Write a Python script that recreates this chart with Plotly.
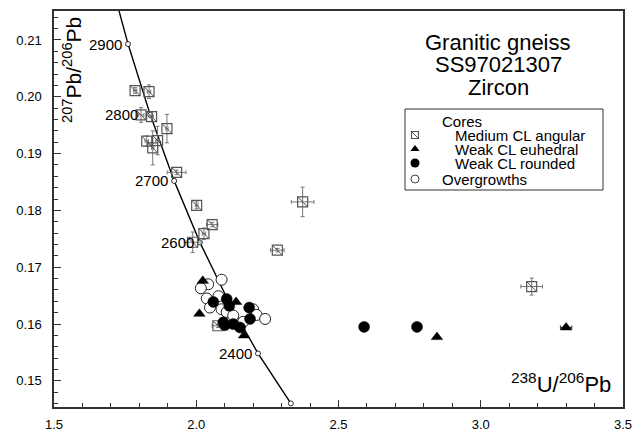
import plotly.graph_objects as go

# ---------------- data ----------------
# Concordia reference points (age in Ma, 238U/206Pb, 207Pb/206Pb)
conc_age = [3000, 2900, 2800, 2700, 2600, 2500, 2400, 2300]
conc_x = [1.6875, 1.7603, 1.8384, 1.9224, 2.0129, 2.1108, 2.2170, 2.3325]
conc_y = [0.22266, 0.20928, 0.19682, 0.18520, 0.17437, 0.16427, 0.15483, 0.14603]
conc_labels = [2900, 2800, 2700, 2600, 2400]

# Medium CL angular cores (with errors)
med_x = [1.785, 1.834, 1.806, 1.843, 1.897, 1.826, 1.864, 1.847, 1.931,
         2.0015, 2.056, 2.027, 1.9875, 2.374, 2.285, 2.076, 3.179]
med_y = [0.2011, 0.2009, 0.1968, 0.1965, 0.1944, 0.1922, 0.1923, 0.1910, 0.1867,
         0.1809, 0.1775, 0.1759, 0.1744, 0.1815, 0.1730, 0.1597, 0.1666]
med_ex = [0.006, 0.006, 0.010, 0.006, 0.004, 0.006, 0.006, 0.004, 0.033,
          0.005, 0.020, 0.006, 0.030, 0.040, 0.024, 0.020, 0.038]
med_ey = [0.0005, 0.0012, 0.0013, 0.0008, 0.0025, 0.0009, 0.0025, 0.0030, 0.0004,
          0.0006, 0.0004, 0.0010, 0.0018, 0.0026, 0.0003, 0.0003, 0.0015]

# Weak CL euhedral cores
euh_x = [2.023, 2.140, 2.011, 2.168, 2.846, 3.300]
euh_y = [0.1676, 0.1639, 0.1618, 0.1580, 0.1577, 0.1594]
euh_ex = [0.0, 0.0, 0.0, 0.0, 0.0, 0.020]

# Weak CL rounded cores
rnd_x = [2.060, 2.107, 2.116, 2.186, 2.095, 2.130, 2.189, 2.154, 2.101, 2.590, 2.776]
rnd_y = [0.1639, 0.1644, 0.1632, 0.1629, 0.1603, 0.1600, 0.1609, 0.1594, 0.1598, 0.1595, 0.1595]

# Overgrowths
ovg_x = [2.089, 2.042, 2.016, 2.037, 2.078, 2.048, 2.089, 2.200, 2.107,
         2.130, 2.212, 2.242, 2.165]
ovg_y = [0.1678, 0.1670, 0.1663, 0.1645, 0.1649, 0.1629, 0.1626, 0.1626, 0.1621,
         0.1615, 0.1616, 0.1609, 0.1604]

legend_names = ["Medium CL angular", "Weak CL euhedral", "Weak CL rounded", "Overgrowths"]

FONT = "Liberation Sans, Arial, Helvetica, sans-serif"
GRAY = "#555555"
ERR = "#777777"

fig = go.Figure()

# concordia
fig.add_trace(go.Scatter(
    x=conc_x, y=conc_y, mode="lines+markers",
    line=dict(color="black", width=1.4),
    marker=dict(symbol="circle", size=5, color="white",
                line=dict(color="black", width=0.8)),
    showlegend=False, cliponaxis=True))

# medium CL angular squares
fig.add_trace(go.Scatter(
    x=med_x, y=med_y, mode="markers",
    error_x=dict(type="data", array=med_ex, color=ERR, thickness=1, width=2),
    error_y=dict(type="data", array=med_ey, color=ERR, thickness=1, width=2),
    marker=dict(symbol="square-open", size=10, color=GRAY, line=dict(color=GRAY, width=1.2)),
    showlegend=False))
fig.add_trace(go.Scatter(
    x=med_x, y=med_y, mode="markers",
    marker=dict(symbol="line-nw", size=10, color=GRAY, line=dict(color=GRAY, width=1)),
    showlegend=False))

# overgrowths
fig.add_trace(go.Scatter(
    x=ovg_x, y=ovg_y, mode="markers",
    marker=dict(symbol="circle", size=11, color="white", line=dict(color="#222222", width=1)),
    showlegend=False))

# weak CL rounded
fig.add_trace(go.Scatter(
    x=rnd_x, y=rnd_y, mode="markers",
    marker=dict(symbol="circle", size=11, color="black", line=dict(color="black", width=0.5)),
    showlegend=False))

# weak CL euhedral
fig.add_trace(go.Scatter(
    x=euh_x, y=euh_y, mode="markers",
    error_x=dict(type="data", array=euh_ex, color="#333333", thickness=1, width=2),
    marker=dict(symbol="triangle-up", size=10, color="black", line=dict(color="black", width=0.5)),
    showlegend=False))

# concordia age labels
for age, cx, cy in zip(conc_age, conc_x, conc_y):
    if age in conc_labels:
        fig.add_annotation(x=cx, y=cy, text=str(age), showarrow=False,
                           xanchor="right", yanchor="middle", xshift=-4 if age != 2800 else -10,
                           font=dict(family=FONT, size=15, color="black"))

# ----- manual legend (paper coords via overlay axes) -----
W, H, L, T = 569.0, 396.0, 54.0, 11.0
def px(xp):
    return (xp - L) / W
def py(yp):
    return 1 - (yp - T) / H

fig.add_shape(type="rect", xref="paper", yref="paper",
              x0=px(405), x1=px(603), y0=py(190), y1=py(109),
              line=dict(color="#333333", width=1), fillcolor="rgba(0,0,0,0)", layer="below")

rows = [135, 149, 163, 179]
sym_x = [px(415)] * 4
sym_y = [py(r) for r in rows]
fig.add_trace(go.Scatter(x=[sym_x[0]], y=[sym_y[0]], xaxis="x2", yaxis="y2", mode="markers",
                         marker=dict(symbol="square-open", size=7, color=GRAY, line=dict(width=1.1)),
                         showlegend=False))
fig.add_trace(go.Scatter(x=[sym_x[0]], y=[sym_y[0]], xaxis="x2", yaxis="y2", mode="markers",
                         marker=dict(symbol="line-nw", size=7, color=GRAY, line=dict(color=GRAY, width=1)),
                         showlegend=False))
fig.add_trace(go.Scatter(x=[sym_x[1]], y=[sym_y[1]], xaxis="x2", yaxis="y2", mode="markers",
                         marker=dict(symbol="triangle-up", size=8, color="black"), showlegend=False))
fig.add_trace(go.Scatter(x=[sym_x[2]], y=[sym_y[2]], xaxis="x2", yaxis="y2", mode="markers",
                         marker=dict(symbol="circle", size=9, color="black"), showlegend=False))
fig.add_trace(go.Scatter(x=[sym_x[3]], y=[sym_y[3]], xaxis="x2", yaxis="y2", mode="markers",
                         marker=dict(symbol="circle", size=8, color="white",
                                     line=dict(color="#444444", width=1)), showlegend=False))

fig.add_annotation(xref="paper", yref="paper", x=px(440), y=py(121), text="Cores",
                   showarrow=False, xanchor="left", yanchor="middle",
                   font=dict(family=FONT, size=15, color="black"))
for i, name in enumerate(legend_names):
    xl = 453 if i < 3 else 440
    fig.add_annotation(xref="paper", yref="paper", x=px(xl), y=py(rows[i]), text=name,
                       showarrow=False, xanchor="left", yanchor="middle",
                       font=dict(family=FONT, size=15, color="black"))

# title block
for txt, yy in [("Granitic gneiss", 42), ("SS97021307", 64.5), ("Zircon", 87)]:
    fig.add_annotation(xref="paper", yref="paper", x=px(498), y=py(yy), text=txt,
                       showarrow=False, xanchor="center", yanchor="middle",
                       font=dict(family=FONT, size=22, color="black"))

# axis titles inside plot
fig.add_annotation(xref="paper", yref="paper", x=px(613), y=py(383),
                   text="<sup>238</sup>U/<sup>206</sup>Pb", showarrow=False,
                   xanchor="right", yanchor="middle",
                   font=dict(family=FONT, size=22, color="black"))
fig.add_annotation(xref="paper", yref="paper", x=px(72), y=py(70),
                   text="<sup>207</sup>Pb/<sup>206</sup>Pb", showarrow=False, textangle=-90,
                   xanchor="center", yanchor="middle",
                   font=dict(family=FONT, size=21, color="black"))

axis_common = dict(showline=True, linecolor="#333333", linewidth=1.5, mirror=True,
                   showgrid=False, zeroline=False, ticks="inside", tickcolor="#333333",
                   automargin=False,
                   tickfont=dict(family=FONT, size=13, color="black"))

fig.update_layout(
    width=633, height=431,
    margin=dict(l=54, r=10, t=11, b=24),
    plot_bgcolor="white", paper_bgcolor="white",
    showlegend=False,
    xaxis=dict(range=[1.5, 3.5], tick0=1.5, dtick=0.5, tickformat=".1f", ticklen=7,
               ticklabelstandoff=5,
               minor=dict(dtick=0.1, ticks="inside", ticklen=4, tickcolor="#333333", showgrid=False),
               **axis_common),
    yaxis=dict(range=[0.1454, 0.2151], tick0=0.15, dtick=0.01, tickformat=".2f", ticklen=7,
               ticklabelstandoff=8,
               minor=dict(dtick=0.002, ticks="inside", ticklen=4, tickcolor="#333333", showgrid=False),
               **axis_common),
    xaxis2=dict(range=[0, 1], overlaying="x", visible=False, fixedrange=True),
    yaxis2=dict(range=[0, 1], overlaying="y", visible=False, fixedrange=True),
)

fig.write_html("out.html")
